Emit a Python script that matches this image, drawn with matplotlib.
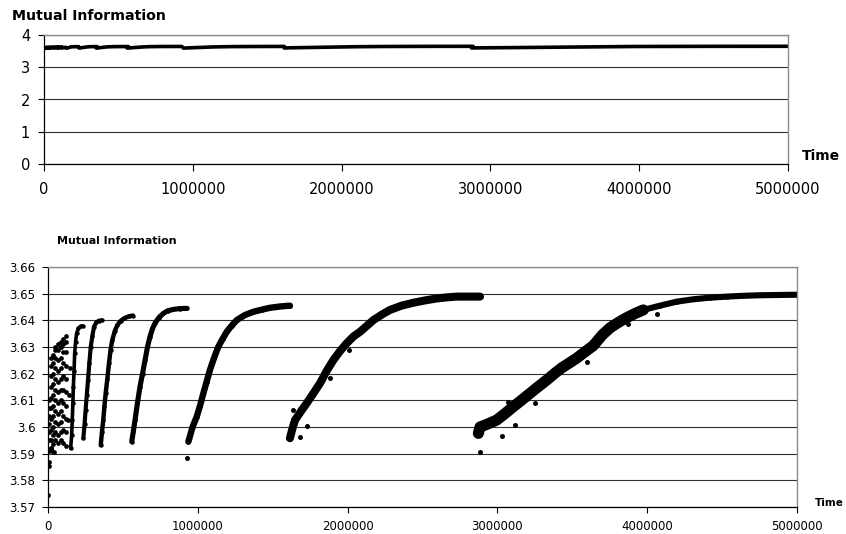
import numpy as np
import matplotlib

matplotlib.use('Agg')
from matplotlib import pyplot as plt
from matplotlib.ticker import FuncFormatter

# early scattered restarts (dots only)
early_x = [0, 4e3, 10e3, 7e3, 7e3, 7e3, 7e3, 7e3, 7e3, 7e3,
           20e3, 20e3, 20e3, 20e3, 20e3, 20e3, 20e3, 20e3, 20e3, 20e3,
           35e3, 35e3, 35e3, 35e3, 35e3, 35e3, 35e3, 35e3, 35e3, 35e3,
           50e3, 50e3, 50e3, 50e3, 50e3, 50e3, 50e3, 50e3, 50e3, 50e3, 50e3,
           68e3, 68e3, 68e3, 68e3, 68e3, 68e3, 68e3, 68e3, 68e3, 68e3, 68e3,
           85e3, 85e3, 85e3, 85e3, 85e3, 85e3, 85e3, 85e3, 85e3, 85e3, 85e3,
           100e3, 100e3, 100e3, 100e3, 100e3, 100e3, 100e3, 100e3, 100e3, 100e3,
           118e3, 118e3, 118e3, 118e3, 118e3, 118e3, 118e3, 118e3, 118e3, 118e3,
           12e3, 22e3, 30e3, 40e3, 135e3, 140e3, 145e3]
early_y = [3.5745, 3.5855, 3.587, 3.591, 3.595, 3.598, 3.601, 3.604, 3.607, 3.610,
           3.592, 3.595, 3.599, 3.603, 3.607, 3.611, 3.615, 3.619, 3.623, 3.626,
           3.5935, 3.597, 3.600, 3.604, 3.608, 3.612, 3.616, 3.620, 3.624, 3.627,
           3.595, 3.598, 3.602, 3.606, 3.610, 3.614, 3.618, 3.622, 3.626, 3.629, 3.630,
           3.594, 3.597, 3.601, 3.605, 3.609, 3.613, 3.617, 3.621, 3.625, 3.629, 3.631,
           3.595, 3.598, 3.602, 3.606, 3.610, 3.614, 3.618, 3.622, 3.626, 3.630, 3.632,
           3.594, 3.599, 3.604, 3.609, 3.614, 3.619, 3.624, 3.628, 3.631, 3.633,
           3.593, 3.598, 3.603, 3.608, 3.613, 3.618, 3.623, 3.628, 3.632, 3.634,
           3.5915, 3.592, 3.591, 3.5905, 3.6025, 3.612, 3.622]

seg2_x = [151e3, 158e3, 162e3, 166e3, 169e3, 174e3, 178e3, 184e3, 191e3, 203e3, 218e3, 234e3]
seg2_y = [3.592, 3.597, 3.6026, 3.609, 3.615, 3.621, 3.6276, 3.632, 3.6351, 3.637, 3.6378, 3.6378]

seg3_x = [236e3, 244e3, 251e3, 259e3, 267e3, 276e3, 285e3, 296e3, 307e3, 322e3, 340e3, 358e3]
seg3_y = [3.5958, 3.601, 3.6064, 3.612, 3.6176, 3.624, 3.630, 3.634, 3.6376, 3.6392, 3.6399, 3.640]

seg4_x = [352e3, 360e3, 369e3, 377e3, 385e3, 396e3, 407e3, 418e3, 429e3, 446e3, 463e3,
          485e3, 510e3, 540e3, 567e3]
seg4_y = [3.5932, 3.598, 3.6026, 3.608, 3.6126, 3.618, 3.6239, 3.629, 3.6326, 3.636, 3.6382,
          3.6398, 3.6408, 3.6415, 3.6418]

seg5_x = [559e3, 570e3, 581e3, 597e3, 614e3, 631e3, 648e3, 664e3, 681e3, 697e3, 714e3,
          740e3, 770e3, 800e3, 837e3, 880e3, 926e3]
seg5_y = [3.5945, 3.5985, 3.6026, 3.609, 3.6151, 3.620, 3.6251, 3.630, 3.6339, 3.6368, 3.6389,
          3.641, 3.6426, 3.6436, 3.6441, 3.6444, 3.6445]

seg6_x = [937e3, 950e3, 965e3, 993e3, 1015e3, 1037e3, 1059e3, 1081e3, 1109e3, 1137e3, 1165e3,
          1193e3, 1226e3, 1260e3, 1315e3, 1371e3, 1427e3, 1482e3, 1550e3, 1615e3]
seg6_y = [3.5945, 3.597, 3.600, 3.6039, 3.608, 3.6126, 3.617, 3.6214, 3.626, 3.6301, 3.633,
          3.6357, 3.638, 3.6401, 3.642, 3.6432, 3.644, 3.6447, 3.6452, 3.6455]

seg7_x = [1615e3, 1630e3, 1649e3, 1690e3, 1727e3, 1770e3, 1816e3, 1860e3, 1905e3, 1950e3,
          1994e3, 2040e3, 2083e3, 2130e3, 2172e3, 2230e3, 2283e3, 2360e3, 2439e3, 2520e3,
          2595e3, 2660e3, 2728e3, 2800e3, 2884e3]
seg7_y = [3.5958, 3.599, 3.6026, 3.606, 3.6089, 3.6125, 3.6164, 3.621, 3.6251, 3.6285,
          3.6314, 3.634, 3.6357, 3.638, 3.6401, 3.6422, 3.6439, 3.6455, 3.6466, 3.6475,
          3.6482, 3.6486, 3.6489, 3.6489, 3.6489]

seg8_x = [2873e3, 2884e3, 2930e3, 2995e3, 3050e3, 3106e3, 3160e3, 3217e3, 3270e3, 3329e3,
          3380e3, 3430e3, 3480e3, 3529e3, 3580e3, 3640e3, 3700e3, 3752e3, 3810e3, 3863e3,
          3920e3, 3974e3, 4085e3, 4197e3, 4308e3, 4420e3, 4531e3, 4640e3, 4753e3, 4870e3, 4998e3]
seg8_y = [3.5976, 3.600, 3.601, 3.6026, 3.605, 3.6076, 3.610, 3.6126, 3.615, 3.6176,
          3.620, 3.6222, 3.624, 3.6258, 3.628, 3.6305, 3.6345, 3.6372, 3.6393, 3.641,
          3.6426, 3.6439, 3.6455, 3.647, 3.6479, 3.6485, 3.6489, 3.6492, 3.6494, 3.6495, 3.6496]

# stray points
stray_x = [926e3, 1682e3, 1727e3, 1637e3, 2884e3, 3029e3, 3117e3, 3073e3, 3251e3,
           3600e3, 3870e3, 4063e3, 1880e3, 2010e3]
stray_y = [3.5885, 3.5964, 3.6005, 3.6064, 3.5905, 3.5966, 3.6007, 3.6095, 3.6091,
           3.6245, 3.6385, 3.6425, 3.6185, 3.6290]

top_yticks = [0, 1, 2, 3, 4]
bot_yticks = [3.57, 3.58, 3.59, 3.6, 3.61, 3.62, 3.63, 3.64, 3.65, 3.66]
xticks = [0, 1000000, 2000000, 3000000, 4000000, 5000000]

segments = [(seg2_x, seg2_y, 2.6), (seg3_x, seg3_y, 3.0), (seg4_x, seg4_y, 3.2),
            (seg5_x, seg5_y, 3.7), (seg6_x, seg6_y, 4.6), (seg7_x, seg7_y, 5.8)]

W, H = 846, 534
fig = plt.figure(figsize=(W / 100, H / 100), dpi=100)
ax1 = fig.add_axes([44 / W, 1 - 164 / H, (788 - 44) / W, (164 - 35) / H])
ax2 = fig.add_axes([48 / W, 1 - 507 / H, (797 - 48) / W, (507 - 267) / H])


def style(ax, size):
    ax.grid(axis='y', color='#303030', lw=0.8)
    ax.set_axisbelow(True)
    for s in ('top', 'right'):
        ax.spines[s].set_color('#8c8c8c')
        ax.spines[s].set_linewidth(1.0)
    for s in ('left', 'bottom'):
        ax.spines[s].set_color('black')
        ax.spines[s].set_linewidth(0.9)
    ax.tick_params(direction='out', length=4, width=0.8, labelsize=size, pad=5)
    ax.set_xlim(0, 5000000)
    ax.set_xticks(xticks)
    ax.xaxis.set_major_formatter(FuncFormatter(lambda v, p: '%d' % v))


# top panel: the whole run as a thick line
all_x, all_y = [], []
for sx, sy, _ in segments:
    all_x += sx
    all_y += sy
all_x += seg8_x
all_y += seg8_y
order = np.argsort(early_x, kind='stable')
top_x = list(np.array(early_x)[order]) + all_x
top_y = list(np.array(early_y)[order]) + all_y
ax1.plot(top_x, top_y, color='black', lw=2.6, solid_joinstyle='round')
ax1.set_ylim(0, 4)
ax1.set_yticks(top_yticks)
style(ax1, 10.5)
ax1.tick_params(axis='x', length=5, pad=8)
ax1.tick_params(axis='y', pad=6)

# bottom panel: zoomed scatter
ax2.plot(early_x, early_y, 'o', color='black', ms=3.4, mew=0)
for sx, sy, lw in segments:
    ax2.plot(sx, sy, '-', color='black', lw=lw, solid_capstyle='round', solid_joinstyle='round')
    ax2.plot(sx, sy, 'o', color='black', ms=3.2, mew=0)
n = 22
ax2.plot(seg8_x[:n], seg8_y[:n], '-', color='black', lw=8.0,
         solid_capstyle='round', solid_joinstyle='round')
ax2.plot(seg8_x[n - 1:], seg8_y[n - 1:], '-', color='black', lw=4.4,
         solid_capstyle='round', solid_joinstyle='round')
ax2.plot(seg8_x, seg8_y, 'o', color='black', ms=3.2, mew=0)
ax2.plot(stray_x, stray_y, 'o', color='black', ms=3.6, mew=0)
ax2.set_ylim(3.57, 3.66)
ax2.set_yticks(bot_yticks)
ax2.yaxis.set_major_formatter(FuncFormatter(lambda v, p: '%g' % round(v, 2)))
style(ax2, 8.5)

fig.text(12 / W, 1 - 16 / H, 'Mutual Information', fontsize=10.2, fontweight='bold', va='center')
fig.text(802 / W, 1 - 156 / H, 'Time', fontsize=10, fontweight='bold', va='center')
fig.text(57 / W, 1 - 241 / H, 'Mutual Information', fontsize=7.9, fontweight='bold', va='center')
fig.text(815 / W, 1 - 503 / H, 'Time', fontsize=7.5, fontweight='bold', va='center')

fig.savefig('out.png', dpi=100)
